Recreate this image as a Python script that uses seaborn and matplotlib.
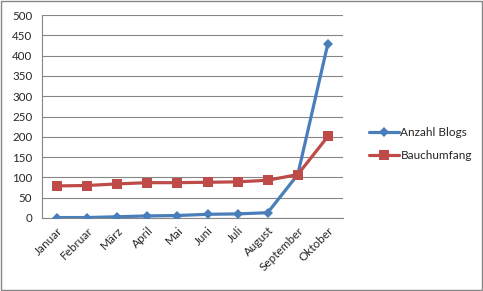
import matplotlib
matplotlib.use("Agg")
import matplotlib.pyplot as plt
import seaborn as sns
import pandas as pd
from matplotlib.patches import Rectangle

months = ["Januar", "Februar", "März", "April", "Mai", "Juni", "Juli", "August", "September", "Oktober"]
anzahl_blogs = [1, 1, 3, 5, 6, 9, 10, 13, 107, 430]
bauchumfang = [79, 80, 84, 87, 87, 88, 89, 93, 107, 201]
y_ticks = [0, 50, 100, 150, 200, 250, 300, 350, 400, 450, 500]

sns.set_style("white")
plt.rcParams['font.family'] = ['Lato', 'DejaVu Sans']

fig = plt.figure(figsize=(4.83, 2.91), dpi=100)
ax = fig.add_axes([0.087, 0.251, 0.623, 0.697])

df = pd.DataFrame({"Monat": months + months,
                   "Wert": anzahl_blogs + bauchumfang,
                   "Serie": ["Anzahl Blogs"] * len(months) + ["Bauchumfang"] * len(months)})

blue = "#4A7EBB"
red = "#BE4B48"
sns.lineplot(data=df, x="Monat", y="Wert", hue="Serie", style="Serie",
             palette={"Anzahl Blogs": blue, "Bauchumfang": red},
             markers={"Anzahl Blogs": "D", "Bauchumfang": "s"},
             dashes=False, markersize=6.5, linewidth=2.3, markeredgewidth=0,
             sort=False, ax=ax, zorder=3)
for ln in ax.lines:
    if ln.get_marker() == "D":
        ln.set_markersize(5.5)
    elif ln.get_marker() == "s":
        ln.set_markersize(6.5)

ax.set_xlim(-0.5, len(months) - 0.5)
ax.set_ylim(0, 500)
ax.set_yticks(y_ticks)
ax.set_xticks(range(len(months)))
ax.set_xticklabels(months, rotation=45, ha="right", rotation_mode="anchor", fontsize=8.5)
ax.set_xticks([i - 0.5 for i in range(len(months) + 1)], minor=True)
ax.tick_params(axis="x", which="major", length=0, pad=5)
ax.tick_params(axis="x", which="minor", length=4, color="#868686", width=0.8, direction="out")
ax.tick_params(axis="y", length=4, color="#868686", width=0.8, direction="out", labelsize=8.3, pad=3)
ax.set_xlabel("")
ax.set_ylabel("")
ax.grid(axis="y", color="#868686", linewidth=0.8)
ax.set_axisbelow(True)
for s in ["top", "right"]:
    ax.spines[s].set_visible(False)
for s in ["left", "bottom"]:
    ax.spines[s].set_color("#868686")
    ax.spines[s].set_linewidth(0.8)

handles, labels = ax.get_legend_handles_labels()
for h in handles:
    if h.get_marker() == "D":
        h.set_markersize(5.5)
    elif h.get_marker() == "s":
        h.set_markersize(6.5)
ax.legend(handles, labels, loc="center left", bbox_to_anchor=(1.05, 0.365), frameon=False,
          fontsize=8.5, handlelength=2.6, handletextpad=0.1, labelspacing=1.0)

fig.patches.append(Rectangle((0.002, 0.003), 0.995, 0.993, transform=fig.transFigure,
                             fill=False, edgecolor="#868686", linewidth=1))
fig.savefig("out.png", dpi=100)
